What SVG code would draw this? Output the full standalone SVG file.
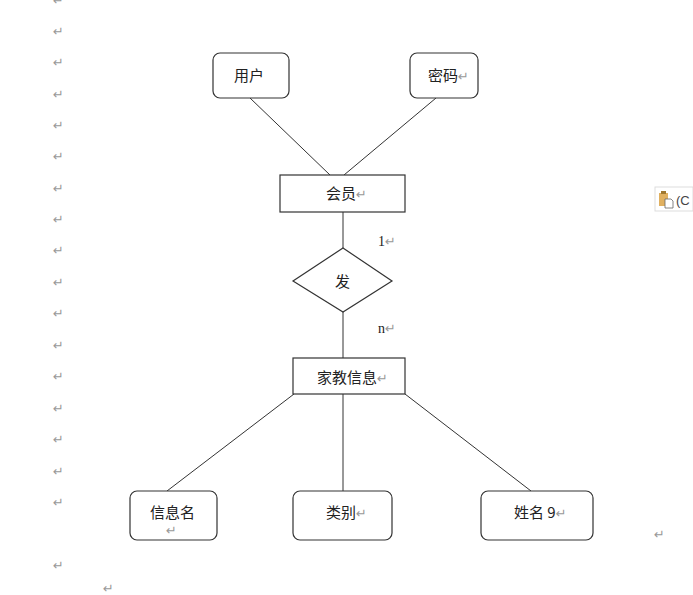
<svg xmlns="http://www.w3.org/2000/svg" width="693" height="595" viewBox="0 0 693 595">
<style>
.box{fill:#fff;stroke:#333;stroke-width:1.2}
.ln{stroke:#333;stroke-width:1;fill:none}
.t{font-family:"Noto Sans CJK SC","Noto Sans",sans-serif;font-size:15px;fill:#222}
.r{font-family:"DejaVu Sans",sans-serif;font-size:13px;fill:#999}
.s{font-family:"Liberation Serif",serif;font-size:14px;fill:#222}
</style>
<rect width="693" height="595" fill="#fff"/>
<g id="marks">
<text class="r" x="53" y="5">↵</text>
<text class="r" x="53" y="36">↵</text>
<text class="r" x="53" y="67">↵</text>
<text class="r" x="53" y="99">↵</text>
<text class="r" x="53" y="130">↵</text>
<text class="r" x="53" y="161">↵</text>
<text class="r" x="53" y="193">↵</text>
<text class="r" x="53" y="224">↵</text>
<text class="r" x="53" y="255">↵</text>
<text class="r" x="53" y="287">↵</text>
<text class="r" x="53" y="318">↵</text>
<text class="r" x="53" y="350">↵</text>
<text class="r" x="53" y="381">↵</text>
<text class="r" x="53" y="413">↵</text>
<text class="r" x="53" y="444">↵</text>
<text class="r" x="53" y="476">↵</text>
<text class="r" x="53" y="507">↵</text>
<text class="r" x="53" y="570">↵</text>
<text class="r" x="103" y="593">↵</text>
<text class="r" x="654" y="539">↵</text>
</g>
<g id="paste">
<rect x="655" y="187" width="38" height="24" fill="#fff" stroke="#ddd"/>
<rect x="659" y="193" width="9" height="13" fill="#e0b060"/>
<rect x="661" y="191" width="5" height="3" fill="#a07830"/>
<path d="M665 199 h6 l2 2 v7 h-8 z" fill="#fff" stroke="#666" stroke-width="0.8"/>
<text x="676" y="205" font-family="Liberation Sans,sans-serif" font-size="13" fill="#444">(C</text>
</g>
<g id="connectors">
<line class="ln" x1="250" y1="98" x2="330" y2="175"/>
<line class="ln" x1="436" y1="98" x2="344" y2="175"/>
<line class="ln" x1="343" y1="212" x2="343" y2="248"/>
<line class="ln" x1="343" y1="312" x2="343" y2="358"/>
<line class="ln" x1="294" y1="394" x2="167" y2="491"/>
<line class="ln" x1="343" y1="394" x2="343" y2="491"/>
<line class="ln" x1="405" y1="394" x2="531" y2="491"/>
<text class="s" x="378" y="246">1<tspan class="r" font-size="9">↵</tspan></text>
<text class="s" x="378" y="333">n<tspan class="r" font-size="9">↵</tspan></text>
</g>
<g id="yonghu">
<rect class="box" x="213" y="53" width="76" height="45" rx="7"/>
<text class="t" x="234" y="81">用户</text>
</g>
<g id="mima">
<rect class="box" x="410" y="53" width="68" height="45" rx="7"/>
<text class="t" x="428" y="81">密码<tspan class="r">↵</tspan></text>
</g>
<g id="huiyuan">
<rect class="box" x="280" y="175" width="125" height="37"/>
<text class="t" x="326" y="199">会员<tspan class="r">↵</tspan></text>
</g>
<g id="fa">
<polygon class="box" points="343,248 392,281 343,312 293,281"/>
<text class="t" x="335" y="287">发</text>
</g>
<g id="jiajiaoxinxi">
<rect class="box" x="293" y="358" width="112" height="36"/>
<text class="t" x="317" y="383">家教信息<tspan class="r">↵</tspan></text>
</g>
<g id="xinximing">
<rect class="box" x="130" y="491" width="87" height="49" rx="7"/>
<text class="t" x="150" y="518">信息名</text>
<text class="r" x="166" y="535" font-size="7">↵</text>
</g>
<g id="leibie">
<rect class="box" x="293" y="491" width="99" height="49" rx="7"/>
<text class="t" x="326" y="518">类别<tspan class="r">↵</tspan></text>
</g>
<g id="xingming">
<rect class="box" x="481" y="491" width="112" height="49" rx="7"/>
<text class="t" x="514" y="518">姓名 9<tspan class="r">↵</tspan></text>
</g>
</svg>
